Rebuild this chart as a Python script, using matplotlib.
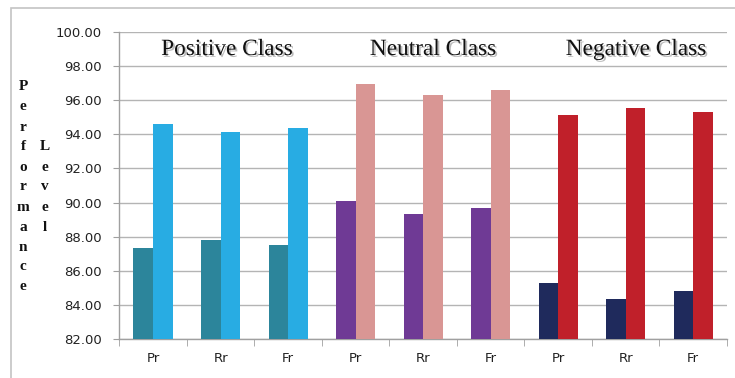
import numpy as np
import matplotlib
matplotlib.use('Agg')
import matplotlib.pyplot as plt
import matplotlib.patheffects as pe
from matplotlib.patches import Rectangle

# --- data ---
metrics = ['Pr', 'Rr', 'Fr']
classes = ['Positive Class', 'Neutral Class', 'Negative Class']
series_a = [87.31, 87.78, 87.53, 90.08, 89.31, 89.67, 85.28, 84.34, 84.81]
series_b = [94.62, 94.11, 94.37, 96.94, 96.28, 96.59, 95.13, 95.55, 95.33]
colors_a = ['#2c859b', '#6f3a95', '#1f2a5c']
colors_b = ['#28ace3', '#d99694', '#c0202a']
y_ticks = np.arange(82, 100.1, 2)

W, H = 735, 378
fig = plt.figure(figsize=(W / 100, H / 100), dpi=100)
ax = fig.add_axes([119.3 / W, 1 - 339 / H, (727 - 119.3) / W, (339 - 32) / H])

n = len(series_a)
x = np.arange(n)
bw = 0.29
ca = [colors_a[i // 3] for i in range(n)]
cb = [colors_b[i // 3] for i in range(n)]
ax.bar(x - bw / 2, np.array(series_a) - 82, bw, bottom=82, color=ca, zorder=3)
ax.bar(x + bw / 2, np.array(series_b) - 82, bw, bottom=82, color=cb, zorder=3)

ax.set_xlim(-0.5, n - 0.5)
ax.set_ylim(82, 100)
ax.set_yticks(y_ticks)
ax.set_yticklabels([f'{v:.2f}' for v in y_ticks], fontsize=9.5, color='#222222')
ax.set_xticks(x)
ax.set_xticklabels(metrics * 3, fontsize=9.5, color='#222222')
ax.set_xticks(np.arange(-0.5, n, 1), minor=True)
ax.tick_params(axis='x', which='major', length=0, pad=9)
ax.tick_params(axis='x', which='minor', length=5, color='#a0a0a0', direction='out')
ax.tick_params(axis='y', length=4, color='#a0a0a0', pad=8.5)
ax.grid(axis='y', color='#b4b4b4', linewidth=1, zorder=0)
for s in ['top', 'right']:
    ax.spines[s].set_visible(False)
for s in ['left', 'bottom']:
    ax.spines[s].set_color('#a0a0a0')
    ax.spines[s].set_linewidth(1)

# class headings
shadow = [pe.SimplePatchShadow(offset=(1.3, -1.3), shadow_rgbFace='#777777', alpha=0.5), pe.Normal()]
for xc, name in zip([1.096, 4.147, 7.155], classes):
    ax.text(xc, 98.65, name, ha='center', va='baseline', fontsize=16.8,
            family='Liberation Serif', color='#111111', path_effects=shadow, zorder=5)

# vertical stacked y-axis label
for word, xp, y0 in [('Performance', 23, 87), ('Level', 45, 147)]:
    for k, ch in enumerate(word):
        fig.text(xp / W, 1 - (y0 + k * 20) / H, ch, ha='center', va='center',
                 fontsize=11, fontweight='bold', family='Liberation Serif', color='#111111')

# light frame around the chart
fig.patches.append(Rectangle((11 / W, -0.1), 1.2, 1 - 8 / H + 0.1, transform=fig.transFigure,
                             fill=False, edgecolor='#c4c4c4', linewidth=1.2))

fig.savefig('out.png', dpi=100)
